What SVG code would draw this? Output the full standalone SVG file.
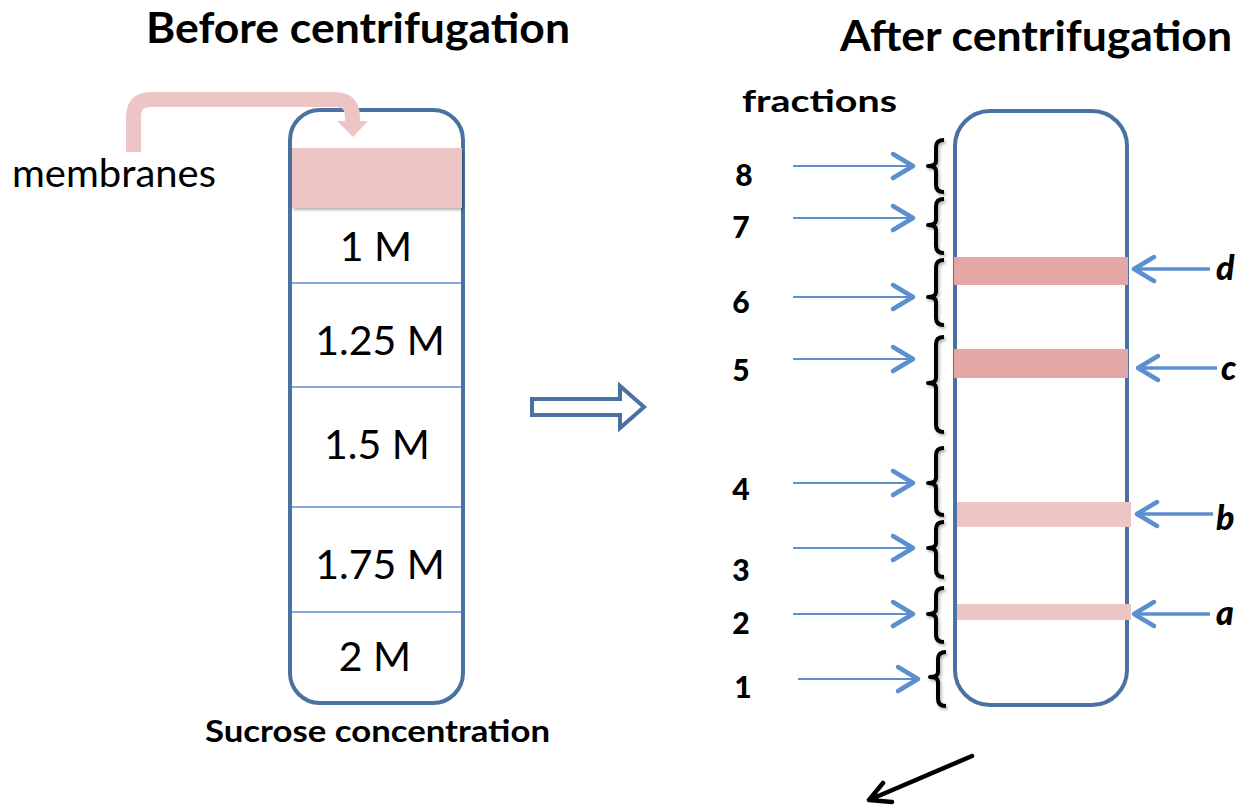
<svg xmlns="http://www.w3.org/2000/svg" width="1254" height="809" viewBox="0 0 1254 809">
<style>
.title{font-family:Lato,"Liberation Sans",sans-serif;font-weight:bold;font-size:42px;fill:#000}
.conc{font-family:Lato,"Liberation Sans",sans-serif;font-size:41px;fill:#000;text-anchor:middle}
.num{font-family:Lato,"Liberation Sans",sans-serif;font-weight:900;font-size:30px;fill:#000;text-anchor:middle}
.let{font-family:Lato,"Liberation Sans",sans-serif;font-weight:900;font-style:italic;font-size:34px;fill:#000}
.tube{fill:#fff;stroke:#4a72a0;stroke-width:4}
.div{stroke:#5b8fcf;stroke-width:1.5}
.thin{stroke:#5b8fcf;stroke-width:1.8;fill:none}
.thick{stroke:#5b8fcf;stroke-width:3.5;fill:none}
.brace{stroke:#000;stroke-width:4;fill:none;stroke-linejoin:round}
.dark{fill:#e3a7a6}
.light{fill:#ecc6c5}
</style>
<defs>
<filter id="sh" x="-30%" y="-30%" width="160%" height="160%">
<feDropShadow dx="1.5" dy="2" stdDeviation="1.5" flood-color="#000" flood-opacity="0.3"/>
</filter>
<marker id="ah" viewBox="-26 -16 30 32" refX="0" refY="0" markerWidth="30" markerHeight="32" markerUnits="userSpaceOnUse" orient="auto">
<path d="M -20 -12 L 0 0 L -20 12" fill="none" stroke="#5b8fcf" stroke-width="4.5" stroke-linecap="round" stroke-linejoin="round"/>
</marker>
</defs>

<g id="title-before"><text class="title" x="146" y="43" textLength="424" lengthAdjust="spacingAndGlyphs">Before centrifugation</text></g>
<g id="title-after"><text class="title" x="840" y="51" textLength="392" lengthAdjust="spacingAndGlyphs">After centrifugation</text></g>

<g id="membranes-label"><text x="12" y="187" font-family="Lato, 'Liberation Sans', sans-serif" font-size="39" textLength="204" lengthAdjust="spacingAndGlyphs">membranes</text></g>

<g id="tube-before">
<rect class="tube" x="290" y="110" width="173" height="593" rx="30"/>
<rect x="292" y="148" width="170" height="60" fill="#ecc5c4" filter="url(#sh)"/>
<line class="div" x1="292" y1="283" x2="461" y2="283"/>
<line class="div" x1="292" y1="387" x2="461" y2="387"/>
<line class="div" x1="292" y1="507" x2="461" y2="507"/>
<line class="div" x1="292" y1="612" x2="461" y2="612"/>
<text class="conc" x="376" y="261">1 M</text>
<text class="conc" x="380" y="355">1.25 M</text>
<text class="conc" x="377" y="459">1.5 M</text>
<text class="conc" x="380" y="579">1.75 M</text>
<text class="conc" x="375" y="671">2 M</text>
</g>

<g id="membrane-arrow">
<path d="M 133.5 152 V 117 Q 133.5 99.5 151 99.5 H 335 Q 352.5 99.5 352.5 117 V 122" fill="none" stroke="#ecc5c4" stroke-width="15"/>
<polygon points="337,121 368,121 353,137" fill="#ecc5c4"/>
</g>

<g id="sucrose-label"><text x="205" y="742" font-family="Lato, 'Liberation Sans', sans-serif" font-weight="bold" font-size="30" textLength="345" lengthAdjust="spacingAndGlyphs">Sucrose concentration</text></g>

<g id="process-arrow">
<path d="M 532 399 H 620 V 386 L 644 407 L 620 428 V 415 H 532 Z" fill="#fff" stroke="#4a72a0" stroke-width="4" stroke-linejoin="miter"/>
</g>

<g id="fractions-label"><text x="742" y="112" font-family="Lato, 'Liberation Sans', sans-serif" font-weight="bold" font-size="31" textLength="155" lengthAdjust="spacingAndGlyphs">fractions</text></g>

<g id="tube-after">
<rect class="tube" x="955" y="111" width="172" height="594" rx="35"/>
<rect class="dark" x="954" y="257" width="174" height="28"/>
<rect class="dark" x="954" y="349" width="174" height="29"/>
<rect class="light" x="957" y="502" width="174" height="25"/>
<rect class="light" x="957" y="604" width="174" height="16"/>
</g>

<g id="braces" filter="url(#sh)">
<path class="brace" d="M 944 140 Q 936 140 936 147 V 161 Q 936 166 928 166 Q 936 166 936 171 V 185 Q 936 192 944 192"/>
<path class="brace" d="M 944 199 Q 936 199 936 206 V 220 Q 936 225 928 225 Q 936 225 936 230 V 246 Q 936 253 944 253"/>
<path class="brace" d="M 944 260 Q 936 260 936 267 V 292 Q 936 297 928 297 Q 936 297 936 302 V 318 Q 936 325 944 325"/>
<path class="brace" d="M 944 337 Q 936 337 936 344 V 378 Q 936 383 928 383 Q 936 383 936 388 V 425 Q 936 432 944 432"/>
<path class="brace" d="M 944 448 Q 936 448 936 455 V 478 Q 936 483 928 483 Q 936 483 936 488 V 508 Q 936 515 944 515"/>
<path class="brace" d="M 944 522 Q 936 522 936 529 V 543 Q 936 548 928 548 Q 936 548 936 553 V 570 Q 936 577 944 577"/>
<path class="brace" d="M 944 588 Q 936 588 936 595 V 609 Q 936 614 928 614 Q 936 614 936 619 V 635 Q 936 642 944 642"/>
<path class="brace" d="M 946 652 Q 938 652 938 659 V 672 Q 938 677 930 677 Q 938 677 938 682 V 699 Q 938 706 946 706"/>
</g>

<g id="connectors">
<line class="thin" x1="793" y1="166" x2="913" y2="166" marker-end="url(#ah)"/>
<line class="thin" x1="793" y1="218" x2="913" y2="218" marker-end="url(#ah)"/>
<line class="thin" x1="793" y1="297" x2="913" y2="297" marker-end="url(#ah)"/>
<line class="thin" x1="793" y1="359" x2="913" y2="359" marker-end="url(#ah)"/>
<line class="thin" x1="793" y1="483" x2="913" y2="483" marker-end="url(#ah)"/>
<line class="thin" x1="793" y1="548" x2="913" y2="548" marker-end="url(#ah)"/>
<line class="thin" x1="793" y1="614" x2="913" y2="614" marker-end="url(#ah)"/>
<line class="thin" x1="798" y1="679" x2="918" y2="679" marker-end="url(#ah)"/>
<line class="thick" x1="1210" y1="269" x2="1134" y2="269" marker-end="url(#ah)"/>
<line class="thick" x1="1217" y1="368" x2="1138" y2="368" marker-end="url(#ah)"/>
<line class="thick" x1="1213" y1="514" x2="1137" y2="514" marker-end="url(#ah)"/>
<line class="thick" x1="1210" y1="614" x2="1134" y2="614" marker-end="url(#ah)"/>
<path d="M 972 756 L 869 800 M 883 783 L 869 800 L 892 802" fill="none" stroke="#000" stroke-width="4.5" stroke-linecap="round" stroke-linejoin="round"/>
</g>

<g id="fraction-numbers">
<text class="num" x="744" y="186">8</text>
<text class="num" x="741" y="238">7</text>
<text class="num" x="741" y="313">6</text>
<text class="num" x="741" y="381">5</text>
<text class="num" x="741" y="500">4</text>
<text class="num" x="741" y="581">3</text>
<text class="num" x="741" y="634">2</text>
<text class="num" x="743" y="698">1</text>
</g>

<g id="band-labels">
<text class="let" x="1216" y="280">d</text>
<text class="let" x="1221" y="380">c</text>
<text class="let" x="1216" y="530">b</text>
<text class="let" x="1216" y="625">a</text>
</g>
</svg>
